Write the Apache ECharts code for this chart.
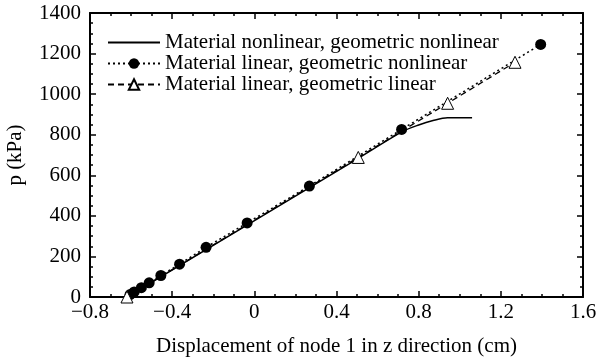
<!DOCTYPE html>
<html>
<head>
<meta charset="utf-8">
<script src="https://cdn.jsdelivr.net/npm/echarts@6/dist/echarts.min.js"></script>
<style>
  html, body { margin: 0; padding: 0; background: #fff; }
  #chart { width: 597px; height: 360px; }
</style>
</head>
<body>
<div id="chart"></div>
<script>
// Load–displacement response of node 1 (z direction)
const seriesNames = [
  'Material nonlinear, geometric nonlinear',
  'Material linear, geometric nonlinear',
  'Material linear, geometric linear'
];
// [displacement (cm), p (kPa)]
const matNonlinGeoNonlin = [
  [-0.62, 0], [0.50, 680], [0.72, 815], [0.80, 848], [0.87, 870], [0.94, 884], [1.06, 884]
];
const matLinGeoNonlin = [
  [-0.605, 12], [-0.585, 25], [-0.55, 46], [-0.512, 70], [-0.455, 106],
  [-0.364, 162], [-0.235, 245], [-0.035, 365], [0.268, 547], [0.717, 826], [1.394, 1245]
];
const matLinGeoLin = [
  [-0.62, 0], [0.506, 688], [0.941, 955], [1.269, 1157]
];
const xTicks = { min: -0.8, max: 1.6, step: 0.4 };
const yTicks = { min: 0, max: 1400, step: 200 };

const FONT = 'Liberation Serif';
const FS = 21;
const fmtX = v => {
  const r = Math.round(v * 10) / 10;
  if (r === 0) return '0';
  return (r < 0 ? '\u2212' : '') + Math.abs(r).toFixed(1);
};
const fmtY = v => String(Math.round(v));

const axisLine = { show: true, onZero: false, lineStyle: { color: '#000', width: 2 } };
const axisTick = { show: true, inside: true, length: 6, lineStyle: { color: '#000', width: 1.5 } };
const minorTick = { show: true, splitNumber: 4, length: 3, lineStyle: { color: '#000', width: 1.5 } };

const chart = echarts.init(document.getElementById('chart'), null, { renderer: 'canvas' });
chart.setOption({
  animation: false,
  backgroundColor: '#fff',
  grid: { left: 90, right: 14, top: 13, bottom: 63, containLabel: false, outerBoundsMode: 'none' },
  legend: {
    left: 102, top: 27, orient: 'vertical',
    itemWidth: 52, itemHeight: 13, itemGap: 0,
    textStyle: { fontFamily: FONT, fontSize: FS, color: '#000', padding: [0, 0, 0, 0] },
    data: [
      { name: seriesNames[0], itemStyle: { opacity: 0 } },
      { name: seriesNames[1] },
      { name: seriesNames[2] }
    ]
  },
  xAxis: [{
    type: 'value', min: xTicks.min, max: xTicks.max, interval: xTicks.step,
    name: 'Displacement of node 1 in z direction (cm)',
    nameLocation: 'middle', nameGap: 39,
    nameTextStyle: { fontFamily: FONT, fontSize: FS, color: '#000' },
    axisLine, axisTick, minorTick,
    axisLabel: { fontFamily: FONT, fontSize: FS, color: '#000', margin: 5, formatter: fmtX },
    splitLine: { show: false }
  }, {
    type: 'value', position: 'top', min: xTicks.min, max: xTicks.max, interval: xTicks.step,
    axisLine, axisTick, minorTick, axisLabel: { show: false }, splitLine: { show: false }
  }],
  yAxis: [{
    type: 'value', min: yTicks.min, max: yTicks.max, interval: yTicks.step,
    name: 'p (kPa)', nameLocation: 'middle', nameGap: 64,
    nameTextStyle: { fontFamily: FONT, fontSize: FS, color: '#000' },
    axisLine, axisTick, minorTick,
    axisLabel: { fontFamily: FONT, fontSize: FS, color: '#000', margin: 9, formatter: fmtY },
    splitLine: { show: false }
  }, {
    type: 'value', position: 'right', min: yTicks.min, max: yTicks.max, interval: yTicks.step,
    axisLine, axisTick, minorTick, axisLabel: { show: false }, splitLine: { show: false }
  }],
  series: [{
    name: seriesNames[0], type: 'line', data: matNonlinGeoNonlin,
    symbol: 'none', smooth: 0.3, lineStyle: { color: '#000', width: 1.5, type: 'solid' },
    itemStyle: { color: '#000' }, z: 2
  }, {
    name: seriesNames[1], type: 'line', data: matLinGeoNonlin,
    symbol: 'circle', symbolSize: 11,
    lineStyle: { color: '#000', width: 1.5, type: [2, 3] },
    itemStyle: { color: '#000', borderWidth: 0 }, z: 3
  }, {
    name: seriesNames[2], type: 'line', data: matLinGeoLin,
    symbol: 'triangle', symbolSize: 12,
    lineStyle: { color: '#000', width: 1.3, type: [6, 4] },
    itemStyle: { color: '#fff', borderColor: '#000', borderWidth: 1 }, z: 4
  }]
});
</script>
</body>
</html>
